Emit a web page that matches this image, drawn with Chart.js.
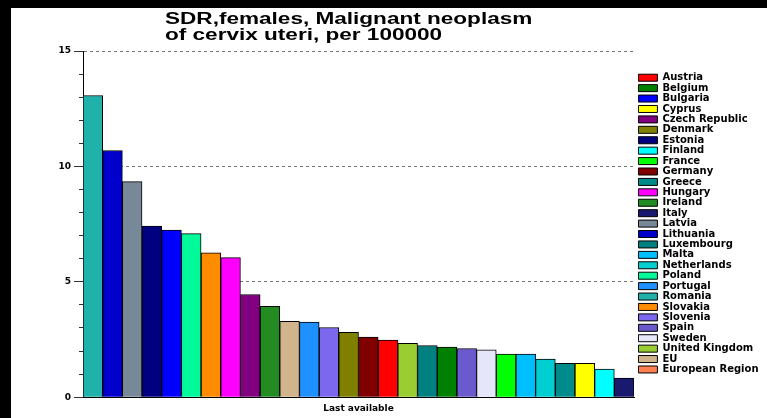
<!DOCTYPE html>
<html><head><meta charset="utf-8">
<script src="https://cdn.jsdelivr.net/npm/chart.js@4.4.1/dist/chart.umd.min.js"></script>
<style>
html,body{margin:0;padding:0;background:#000;width:767px;height:418px;overflow:hidden}
#wrap{position:absolute;left:11px;top:8px;width:756px;height:410px;background:#fff}
#title{position:absolute;left:154px;top:2.5px;font:bold 16px/16px "Liberation Sans",Arial,sans-serif;color:#000;transform:scaleX(1.41);transform-origin:0 0;white-space:nowrap}
canvas{position:absolute;left:0;top:0}
</style></head><body>
<div id="wrap"><canvas id="c" width="756" height="410"></canvas><div id="title">SDR,females, Malignant neoplasm<br>of cervix uteri, per 100000</div></div>
<script>
const legendNames = ["Austria","Belgium","Bulgaria","Cyprus","Czech Republic","Denmark","Estonia","Finland","France","Germany","Greece","Hungary","Ireland","Italy","Latvia","Lithuania","Luxembourg","Malta","Netherlands","Poland","Portugal","Romania","Slovakia","Slovenia","Spain","Sweden","United Kingdom","EU","European Region"];
const legendColors = ["#FF0000","#008000","#0000FF","#FFFF00","#800080","#808000","#000080","#00FFFF","#00FF00","#800000","#008B8B","#FF00FF","#228B22","#191970","#778899","#0000CD","#008080","#00BFFF","#00CED1","#00FA9A","#1E90FF","#20B2AA","#FF8C00","#7B68EE","#6A5ACD","#E6E6FA","#9ACD32","#D2B48C","#FF7F50"];
const barCountries = ["Romania","Lithuania","Latvia","Estonia","Bulgaria","Poland","Slovakia","Hungary","Czech Republic","Ireland","EU","Portugal","Slovenia","Denmark","Germany","Austria","United Kingdom","Luxembourg","Belgium","Spain","Sweden","France","Malta","Netherlands","Greece","Cyprus","Finland","Italy"];
const barValues = [13.07,10.69,9.34,7.41,7.24,7.09,6.25,6.05,4.45,3.94,3.29,3.25,3.02,2.81,2.6,2.48,2.33,2.24,2.17,2.11,2.05,1.87,1.87,1.65,1.47,1.47,1.22,0.83];
const yMajorTicks = [0,5,10,15];
const xAxisTitle = "Last available";

const colorOf = n => legendColors[legendNames.indexOf(n)];
const isMajor = v => yMajorTicks.indexOf(v) !== -1;

const legendTweak = {
  id: 'legendTweak',
  beforeLayout(chart) {
    const lg = chart.legend;
    if (lg && !lg._patched) {
      const f = lg.fit;
      lg.fit = function () { f.call(this); this.width = 133; };
      lg._patched = true;
    }
  },
  afterLayout(chart) {
    const lg = chart.legend;
    if (!lg) return;
    lg.left = chart.chartArea.right + 4;
    lg.top = 64.3;
  }
};

new Chart(document.getElementById('c'), {
  type: 'bar',
  data: {
    labels: barCountries,
    datasets: [{
      data: barValues,
      backgroundColor: barCountries.map(colorOf),
      borderColor: '#000',
      borderWidth: 1,
      categoryPercentage: 1,
      barPercentage: 1
    }]
  },
  options: {
    responsive: false,
    devicePixelRatio: 1,
    animation: false,
    layout: { padding: { top: 43, left: 0, right: 0, bottom: 4 } },
    plugins: {
      tooltip: { enabled: false },
      title: { display: false },
      legend: {
        display: true,
        position: 'right',
        align: 'start',
        onClick: () => {},
        labels: {
          boxWidth: 19,
          boxHeight: 7,
          padding: 0.42,
          color: '#000',
          font: { family: 'DejaVu Sans', weight: 'bold', size: 10 },
          generateLabels: () => legendNames.map((n, i) => ({
            text: n, fillStyle: legendColors[i], strokeStyle: '#000', lineWidth: 1,
            hidden: false, datasetIndex: 0, fontColor: '#000'
          }))
        }
      }
    },
    scales: {
      x: {
        type: 'category',
        grid: { display: false, drawTicks: false },
        ticks: { display: false },
        border: { display: true, color: '#000', width: 1 },
        title: {
          display: true, text: xAxisTitle, color: '#000',
          font: { family: 'DejaVu Sans', weight: 'bold', size: 9 },
          padding: { top: 6, bottom: 0 }
        }
      },
      y: {
        min: 0, max: 15,
        afterFit: s => { s.width = 72; },
        ticks: {
          stepSize: 1,
          autoSkip: false,
          color: '#000',
          padding: 3,
          font: { family: 'DejaVu Sans', weight: 'bold', size: 9 },
          callback: v => isMajor(v) ? String(v) : ''
        },
        grid: {
          drawTicks: true,
          tickLength: 9,
          lineWidth: 1,
          color: c => (c.tick && isMajor(c.tick.value) && c.tick.value > 0) ? '#777' : 'rgba(0,0,0,0)',
          tickColor: '#333',
          tickBorderDash: c => (c.tick && isMajor(c.tick.value)) ? [] : [0, 5, 4, 100]
        },
        border: { display: true, color: '#000', width: 1, dash: [3, 3] }
      }
    }
  },
  plugins: [legendTweak]
});
</script>
</body></html>
